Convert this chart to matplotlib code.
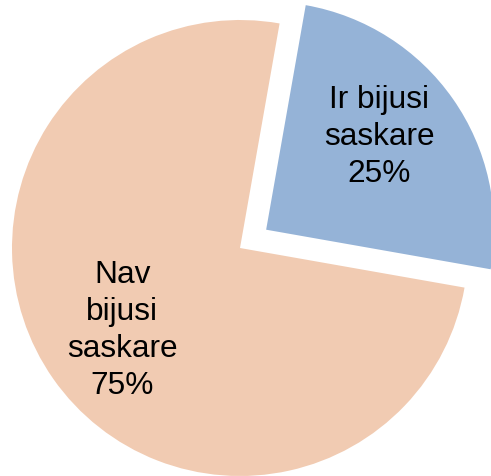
import matplotlib.pyplot as plt

labels = ["Ir bijusi\nsaskare", "Nav\nbijusi\nsaskare"]
shares = [25, 75]
colors = ["#95B3D7", "#F1CBB2"]
explode = [0.14, 0.0]

plt.rcParams["font.family"] = ["Liberation Sans", "DejaVu Sans"]

fig = plt.figure(figsize=(4.91, 4.76), dpi=100)
ax = fig.add_axes([0, 0, 1, 1])
texts = [f"{lab}\n{v}%" for lab, v in zip(labels, shares)]
wedges, lbls = ax.pie(shares, labels=texts, colors=colors, explode=explode,
                      startangle=80, counterclock=False, labeldistance=0.63,
                      wedgeprops={"linewidth": 0},
                      textprops={"fontsize": 22.8, "ha": "center", "va": "center",
                                 "multialignment": "center", "color": "black",
                                 "linespacing": 1.3})
# nudge the small-slice label a bit up/left like the original
x, y = lbls[0].get_position()
lbls[0].set_position((x - 0.02, y + 0.045))
ax.set_aspect("equal")
ax.set_xlim(-240 / 228, 251 / 228)
ax.set_ylim(-1.0, 248 / 228)
ax.axis("off")
fig.savefig("out.png")
